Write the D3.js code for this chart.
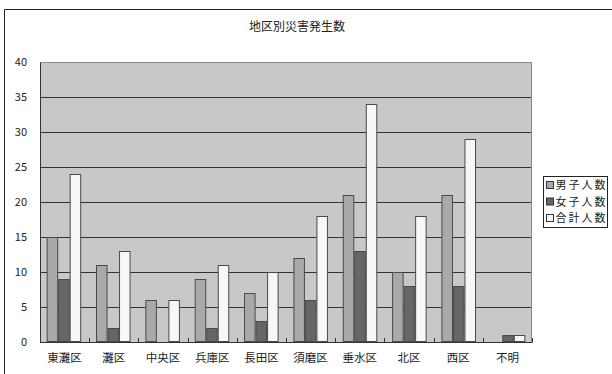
<!DOCTYPE html>
<html><head><meta charset="utf-8">
<script src="https://cdn.jsdelivr.net/npm/d3@7"></script>
<style>body{margin:0;background:#fff}svg{display:block}text{font-family:"Noto Sans CJK JP","DejaVu Sans",sans-serif}</style>
</head><body><svg id="c" width="612" height="374"></svg>
<script>
const categories = ["東灘区","灘区","中央区","兵庫区","長田区","須磨区","垂水区","北区","西区","不明"];
const male   = [15,11,6,9,7,12,21,10,21,0];
const female = [9,2,0,2,3,6,13,8,8,1];
const total  = [24,13,6,11,10,18,34,18,29,1];
const seriesNames = ["男子人数","女子人数","合計人数"];
const colors = ["#a9a9a9","#666666","#f7f7f7"];
const yTicks = [0,5,10,15,20,25,30,35,40];
const title = "地区別災害発生数";

const svg = d3.select("#c");
const L=40, R=532, T=62, B=342;
// outer frame
svg.append("path").attr("d","M4.5,374 V9.5 H612").attr("fill","none").attr("stroke","#222").attr("stroke-width",1);
svg.append("text").attr("x",297).attr("y",31).attr("text-anchor","middle").attr("font-size",12).attr("fill","#222").text(title);

const x = d3.scaleBand().domain(categories).range([L,R]).paddingInner(0.3).paddingOuter(0.135);
const x0 = d3.scaleBand().domain(categories).range([L,R]);
const xs = d3.scaleBand().domain([0,1,2]).range([0,x.bandwidth()]);
const y = d3.scaleLinear().domain([0,40]).range([B,T]);

svg.append("rect").attr("x",L).attr("y",T).attr("width",R-L).attr("height",B-T).attr("fill","#c8c8c8");
// gridlines
svg.append("g").selectAll("line").data(yTicks.filter(d=>d>0&&d<40)).join("line")
  .attr("x1",L).attr("x2",R).attr("y1",d=>Math.round(y(d))+0.5).attr("y2",d=>Math.round(y(d))+0.5)
  .attr("stroke","#333").attr("stroke-width",1);
// top/right border
svg.append("path").attr("d",`M${L},${T+0.5} H${R-0.5} V${B}`).attr("fill","none").attr("stroke","#888");

const data = [male,female,total];
const g = svg.append("g");
data.forEach((vals,si)=>{
  g.selectAll(null).data(categories).join("rect")
    .attr("x",(c)=>x(c)+xs(si)+0.5)
    .attr("y",(c,i)=>y(vals[i])+0.5)
    .attr("width",xs.bandwidth()-1)
    .attr("height",(c,i)=>Math.max(0,B-y(vals[i])-1))
    .attr("fill",colors[si]).attr("stroke",(c,i)=>vals[i]>0?"#4a4a4a":"none").attr("stroke-width",1);
});

// axes
const ya = d3.axisLeft(y).tickValues(yTicks).tickSize(0).tickPadding(13);
const yg = svg.append("g").attr("transform",`translate(${L},0)`).call(ya);
yg.select(".domain").attr("stroke","#333");
yg.selectAll("text").attr("font-family","'DejaVu Sans',sans-serif").attr("font-size",11).attr("fill","#222");

const xa = d3.axisBottom(x0).tickSize(0).tickPadding(10);
const xg = svg.append("g").attr("transform",`translate(0,${B})`).call(xa);
xg.select(".domain").attr("stroke","#333");
xg.selectAll("text").attr("font-size",11.5).attr("fill","#222").attr("dy","0.9em");
// inner tick marks at category boundaries
svg.append("g").selectAll("line").data(categories.slice(1).concat(["end"])).join("line")
  .attr("x1",(c,i)=>Math.round(L+x0.step()*(i+1))+0.5).attr("x2",(c,i)=>Math.round(L+x0.step()*(i+1))+0.5)
  .attr("y1",B).attr("y2",B-4).attr("stroke","#333");
svg.append("line").attr("x1",L).attr("x2",R).attr("y1",B+0.5).attr("y2",B+0.5).attr("stroke","#333");

// legend
const lg = svg.append("g");
lg.append("rect").attr("x",543.5).attr("y",176.5).attr("width",64).attr("height",51).attr("fill","#fff").attr("stroke","#222");
seriesNames.forEach((n,i)=>{
  const yy = 185+i*16.5;
  lg.append("rect").attr("x",546.5).attr("y",yy-3.5).attr("width",7).attr("height",7).attr("fill",colors[i]).attr("stroke","#333");
  lg.append("text").attr("x",555.5).attr("y",yy+4).attr("font-size",11).attr("letter-spacing",2).attr("fill","#222").text(n);
});
</script></body></html>
